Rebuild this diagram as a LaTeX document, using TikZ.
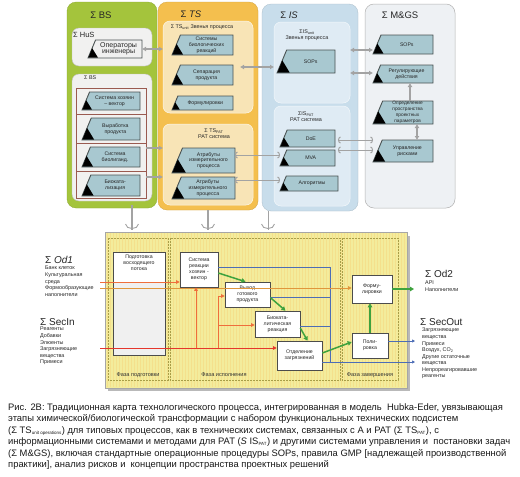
\documentclass[tikz,border=0pt]{standalone}
\usepackage{fontspec}
\setmainfont{Liberation Sans}
\usetikzlibrary{arrows.meta}
\definecolor{bsgreen}{HTML}{A4C43C}
\definecolor{bsin}{HTML}{F1F1F0}
\definecolor{tsor}{HTML}{F4BF4E}
\definecolor{tsin}{HTML}{F8E4B6}
\definecolor{isbl}{HTML}{C8DDEB}
\definecolor{isin}{HTML}{DFEBF4}
\definecolor{mgsc}{HTML}{EEF1F4}
\definecolor{tzf}{HTML}{A8C8D0}
\definecolor{tzd}{HTML}{4A5252}
\definecolor{byel}{HTML}{F3EC9C}
\definecolor{phc}{HTML}{A89E48}
\definecolor{orA}{HTML}{EF6E3C}
\definecolor{orB}{HTML}{E0963C}
\definecolor{redc}{HTML}{E5362C}
\definecolor{grn}{HTML}{3EA23E}
\definecolor{blu}{HTML}{4C6DB6}
\definecolor{arg}{HTML}{A3A3A3}
\definecolor{frm}{HTML}{9A5A50}
\tikzset{
 tzst/.style={fill=tzf, draw=tzd, line width=0.9pt},
 tzw/.style={fill=black!6, draw=tzd, line width=0.9pt},
 tztext/.style={font=\fontsize{5.2}{5.8}\selectfont, align=center, inner sep=0pt, text=black!85},
 ttl/.style={font=\fontsize{9.5}{10}\selectfont, inner sep=0pt, text=black!85},
 sttl/.style={font=\fontsize{5.4}{6}\selectfont, inner sep=0pt, align=center, text=black!85},
 wbox/.style={draw=black!70, fill=white, line width=0.6pt, inner sep=0pt, align=center, font=\fontsize{5.2}{5.9}\selectfont, text=black!85},
 lst/.style={font=\fontsize{5.4}{6.55}\selectfont, inner sep=0pt, align=left, anchor=north west, text=black!85},
 big/.style={font=\fontsize{10}{11}\selectfont, inner sep=0pt, anchor=west, text=black!85},
 captxt/.style={font=\fontsize{9.4}{11}\selectfont, inner sep=0pt, anchor=base west, text=black!90},
 gar/.style={draw=arg, line width=1.5pt, {Latex[length=4pt,width=5pt]}-{Latex[length=4pt,width=5pt]}},
 gac/.style={draw=arg, line width=1pt, {Arc Barb[length=2.5pt,width=7pt]}-{Arc Barb[length=2.5pt,width=7pt]}},
 gone/.style={draw=arg, line width=1.3pt, -{Latex[length=4pt,width=5pt]}},
 grnarr/.style={draw=grn, line width=1.5pt, -{Triangle[length=4pt,width=4.5pt]}},
 bl/.style={draw=blu, line width=0.7pt},
 blarr/.style={draw=blu, line width=0.7pt, -{Triangle[length=3pt,width=3pt]}},
 oraA/.style={draw=orA, line width=0.8pt, -{Triangle[length=3.5pt,width=3.5pt]}},
 oraB/.style={draw=orB, line width=0.9pt, -{Triangle[length=3.5pt,width=3.5pt]}},
 redarr/.style={draw=redc, line width=0.8pt, -{Triangle[length=3.5pt,width=3.5pt]}},
 phase/.style={draw=phc, line width=0.7pt, dash pattern=on 1.6pt off 1.4pt},
 phl/.style={font=\fontsize{5.6}{6}\selectfont, inner sep=0pt, text=black!80},
}
% trapezoid box: style, name, x1, y1, x2, y2, text
\newcommand\tzbox[7]{%
 \path[#1] ({#3+0.42*(#6-#4)},#4) -- (#5,#4) -- (#5,#6) -- (#3,#6) -- cycle;
 \fill[black] (#3+0.5,#6-0.5) -- ({#3+0.55*(#6-#4)},#6-0.5) -- ({#3+0.23*(#6-#4)},{#6-0.55*(#6-#4)}) -- cycle;
 \node[tztext] (#2) at ({(#3+#5)/2+0.2*(#6-#4)},{(#4+#6)/2}) {#7};
}
% fork-like receiving end: line from #1 to #2 ending in a cup
\newcommand\forkto[3]{%
 \draw[arg, line width=#3] (#1) -- (#2);
 \draw[arg, line width=0.9pt] ([xshift=-6.5pt,yshift=6pt]#2) .. controls ([xshift=-6pt,yshift=0pt]#2) and ([xshift=6pt,yshift=0pt]#2) .. ([xshift=6.5pt,yshift=6pt]#2);
}
\begin{document}
\begin{tikzpicture}[x=1pt,y=-1pt]
\useasboundingbox[fill=white] (0,0) rectangle (520,477);

% ===== BS =====
\draw[fill=bsgreen, draw=bsgreen!85!black, line width=0.3pt, rounded corners=9pt] (67,2) rectangle (157,208);
\node[ttl] (bsT) at (101,15) {Σ BS};
\draw[fill=bsin, draw=black!25, line width=0.4pt, rounded corners=7pt] (72,28) rectangle (152,66);
\node[ttl, font=\fontsize{7.5}{8}\selectfont, anchor=west] (husT) at (73,35) {Σ HuS};
\tzbox{tzw}{oper}{88}{40}{142}{58}{\fontsize{7}{8}\selectfont Операторы\\\fontsize{7}{8}\selectfont инженеры}
\draw[fill=bsin, draw=black!25, line width=0.4pt, rounded corners=7pt] (72,74) rectangle (152,201);
\node[sttl, anchor=west] (bs2T) at (84,78) {Σ BS};
\draw[frm, line width=0.5pt] (76,88) rectangle (146,198);
\draw[frm, line width=0.5pt] (76,114) -- (146,114) (76,143) -- (146,143) (76,171) -- (146,171);
\tzbox{tzst}{bs1}{82}{92}{140}{110}{Система хозяин\\– вектор}
\tzbox{tzst}{bs2}{82}{118}{140}{140}{Выработка\\продукта}
\tzbox{tzst}{bs3}{82}{147}{140}{167}{Система\\биолиганд.}
\tzbox{tzst}{bs4}{82}{175}{140}{196}{Биоката-\\лизация}

% ===== TS =====
\draw[fill=tsor, draw=tsor!85!black, line width=0.3pt, rounded corners=9pt] (158,2) rectangle (258,210);
\node[ttl] (tsT) at (191,14) {Σ \textit{TS}};
\draw[fill=tsin, draw=white!70!tsin, line width=0.5pt, rounded corners=7pt] (163,21) rectangle (253,113);
\node[sttl] (tsuT) at (202,27) {Σ TS\textsubscript{unit} Звенья процесса};
\tzbox{tzst}{ts1}{172}{35}{233}{55}{Системы\\биологических\\реакций}
\tzbox{tzst}{ts2}{172}{65}{233}{85}{Сепарация\\продукта}
\tzbox{tzst}{ts3}{172}{96}{233}{110}{Формулировки}
\draw[fill=tsin, draw=white!70!tsin, line width=0.5pt, rounded corners=7pt] (163,124) rectangle (253,205);
\node[sttl] (tspT) at (214,134) {Σ TS\textsubscript{PAT}\\PAT система};
\tzbox{tzst}{ts4}{172}{148}{235}{173}{Атрибуты\\измерительного\\процесса}
\tzbox{tzst}{ts5}{172}{177}{235}{199}{Атрибуты\\измерительного\\процесса}

% ===== IS =====
\draw[fill=isbl, draw=isbl!85!black, line width=0.3pt, rounded corners=9pt] (262,4) rectangle (358,211);
\node[ttl] (isT) at (289,15) {Σ \textit{IS}};
\draw[fill=isin, draw=white!60!isin, line width=0.5pt, rounded corners=7pt] (274,22) rectangle (350,103);
\node[sttl] (isuT) at (307,35) {ΣIS\textsubscript{unit}\\Звенья процесса};
\tzbox{tzst}{is1}{277}{50}{335}{73}{SOPs}
\draw[fill=isin, draw=white!60!isin, line width=0.5pt, rounded corners=7pt] (274,106) rectangle (350,206);
\node[sttl] (ispT) at (306,117) {ΣIS\textsubscript{PAT}\\PAT система};
\tzbox{tzst}{is2}{280}{130}{335}{147}{DoE}
\tzbox{tzst}{is3}{280}{150}{335}{166}{MVA}
\tzbox{tzst}{is4}{280}{176}{338}{191}{Алгоритмы}

% ===== M&GS =====
\draw[fill=mgsc, draw=black!30, line width=0.5pt, rounded corners=9pt] (365,4) rectangle (455,208);
\node[ttl] (mgT) at (400,15) {Σ M\&GS};
\tzbox{tzst}{mg1}{373}{35}{433}{54}{SOPs}
\tzbox{tzst}{mg2}{373}{65}{433}{83}{Регулирующие\\действия}
\tzbox{tzst}{mg3}{373}{101}{433}{124}{\fontsize{4.8}{5.2}\selectfont Определение\\\fontsize{4.8}{5.2}\selectfont пространства\\\fontsize{4.8}{5.2}\selectfont проектных\\\fontsize{4.8}{5.2}\selectfont параметров}
\tzbox{tzst}{mg4}{373}{140}{433}{162}{Управление\\рисками}

% ===== grey connectors top =====
\draw[gar] (142,49) -- (163,49);
\coordinate (tsR1) at (240,67);
\coordinate (isL1) at (274,67);
\draw[gar] (tsR1) -- (isL1);
\draw[gar] (350,50) -- (373,50);
\draw[gar] (350,73) -- (373,73);
\draw[gone] (146,148) -- (163,148);
\draw[gone] (146,177) -- (163,177);
\draw[gac] (235,155) -- (280,155);
\draw[gac] (235,180) -- (280,180);
\draw[gac] (338,140) -- (373,140);
\draw[gac] (338,150) -- (373,150);
\coordinate (mgu) at (410,101);
\coordinate (mgv) at (410,83);
\draw[gone] (mgu) -- (mgv);
\coordinate (mgw) at (417,124);
\coordinate (mgx) at (417,140);
\draw[gar] (mgw) -- (mgx);

% ===== bottom box =====
\fill[black!50, opacity=0.55] (108,236) rectangle (410,391);
\draw[fill=byel, draw=black!35, line width=0.5pt] (105,232) rectangle (407,388);
\foreach \xx in {107,110,...,405} \draw[byel!80!orange, line width=0.4pt, opacity=0.5] (\xx,233) -- (\xx,387);
\draw[phase] (108,238) rectangle (168,380);
\draw[phase] (170,238) rectangle (340,380);
\draw[phase] (342,238) rectangle (398,380);
\node[phl] (ph1) at (138,375) {Фаза подготовки};
\node[phl] (ph2) at (224,375) {Фаза исполнения};
\node[phl] (ph3) at (370,375) {Фаза завершения};

% forks from top systems
\coordinate (fk1a) at (132,205); \coordinate (fk1b) at (132,230);
\coordinate (fk2a) at (208,210); \coordinate (fk2b) at (208,230);
\coordinate (fk3a) at (268,211); \coordinate (fk3b) at (268,230);
\forkto{fk1a}{fk1b}{1.2pt}
\forkto{fk2a}{fk2b}{1.2pt}
\forkto{fk3a}{fk3b}{0.6pt}

% boxes
\fill[black!6] (113,252) rectangle (165,355);
\fill[white] (113,252) rectangle (165,283);
\draw[black!70, line width=0.6pt] (113,252) rectangle (165,355);
\node[wbox, draw=none, fill=none, anchor=north] (prep) at (139,255) {Подготовка\\восходящего\\потока};
\node[wbox, minimum width=38pt, minimum height=35pt] (sys) at (199,269.5) {Система\\реакции\\хозяин -\\вектор};
\node[wbox, minimum width=45pt, minimum height=25pt] (vyh) at (247.5,294.5) {Выход\\готового\\продукта};
\node[wbox, minimum width=45pt, minimum height=26pt] (bio) at (277.5,324) {Биоката-\\литическая\\реакция};
\node[wbox, minimum width=45pt, minimum height=29pt] (otd) at (299.5,355.5) {Отделение\\загрязнений};
\node[wbox, minimum width=40pt, minimum height=28pt] (form) at (372,289) {Форму-\\лировки};
\node[wbox, minimum width=36pt, minimum height=25pt] (pol) at (370,345.5) {Поли-\\ровка};

% blue lines
\coordinate (bxt) at (330,267);
\coordinate (bxb) at (330,362);
\coordinate (b2) at (330,297);
\coordinate (b3) at (330,326);
\coordinate (so1) at (415,362);
\coordinate (so2) at (415,341);
\draw[bl] (sys.east |- bxt) -- (bxt) -- (bxb);
\draw[bl] (vyh.east |- b2) -- (b2);
\draw[bl] (bio.east |- b3) -- (b3);
\draw[blarr] (otd.east |- so1) -- (so1);
\draw[blarr] (pol.east |- so2) -- (so2);

% orange / red lines
\coordinate (od1a) at (100,282);
\coordinate (od1b) at (100,288);
\coordinate (sin) at (100,348);
\coordinate (v1) at (196,348);
\coordinate (v2) at (218,348);
\coordinate (v2t) at (218,296);
\coordinate (v2m) at (218,325);
\draw[oraB] (od1b) -- (od1b -| form.west);
\draw[oraA] (od1a) -- (od1a -| sys.west);
\draw[redarr] (sin) -- (sin -| otd.west);
\draw[oraA] (v1) -- (v1 |- sys.south);
\draw[oraA] (v2) -- (v2t) -- (v2t -| vyh.west);
\draw[oraA] (v2m) -- (v2m -| bio.west);

% green arrows
\coordinate (od2a) at (414,289);
\draw[grnarr] ([yshift=-3.5pt]sys.east) -- ([xshift=-2pt]vyh.north);
\draw[grnarr] ([yshift=-3pt]vyh.east) -- ([xshift=8pt]bio.north);
\draw[grnarr] ([yshift=-4pt]bio.east) -- ([xshift=8pt]otd.north);
\draw[grnarr] ([yshift=2.5pt]otd.east) -- ([yshift=3.5pt]pol.west);
\draw[grnarr] (pol.north) -- (pol.north |- form.south);
\draw[grnarr] (form.east) -- (od2a);

% side labels
\node[big] (od1) at (45,260) {Σ \textit{Od1}};
\node[lst] (od1l) at (45,266) {Банк клеток\\Культуральная\\среда\\Формообразующие\\наполнители};
\node[big] (secin) at (40,322) {Σ SecIn};
\node[lst] (secinl) at (40,327) {Реагенты\\Добавки\\Элюенты\\Загрязняющие\\вещества\\Примеси};
\node[big] (od2) at (425,274) {Σ Od2};
\node[lst] (od2l) at (425,281) {API\\Наполнители};
\node[big] (secout) at (420,322) {Σ SecOut};
\node[lst] (secoutl) at (422,328) {Загрязняющие\\вещества\\Примеси\\Воздух, CO\textsubscript{2}\\Другие остаточные\\вещества\\Непрореагировавшие\\реагенты};

% caption
\node[captxt] (c1) at (8,410) {Рис. 2В: Традиционная карта технологического процесса, интегрированная в модель \ Hubka-Eder, увязывающая};
\node[captxt] (c2) at (8,421.5) {этапы химической/биологической трансформации с набором функциональных технических подсистем};
\node[captxt] (c3) at (8,433) {(Σ TS\textsubscript{\fontsize{4.5}{5}\selectfont unit operations}) для типовых процессов, как в технических системах, связанных с A и PAT (Σ TS\textsubscript{\fontsize{4.5}{5}\selectfont PAT}), с};
\node[captxt] (c4) at (8,444.5) {информационными системами и методами для PAT (\textit{S} IS\textsubscript{\fontsize{4.5}{5}\selectfont PAT}) и другими системами управления и \ постановки задач};
\node[captxt] (c5) at (8,456) {(Σ M\&GS), включая стандартные операционные процедуры SOPs, правила GMP [надлежащей производственной};
\node[captxt] (c6) at (8,467.5) {практики], анализ рисков и \ концепции пространства проектных решений};
\end{tikzpicture}
\end{document}
